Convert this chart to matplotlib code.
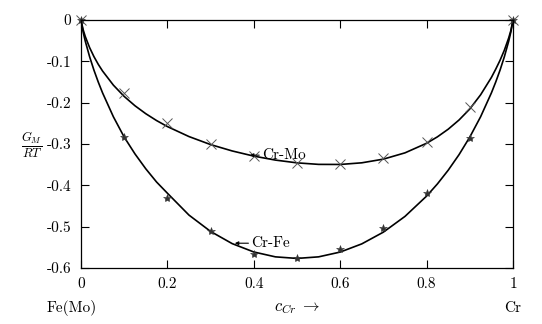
import matplotlib
matplotlib.use("Agg")
import matplotlib.pyplot as plt

plt.rcParams['mathtext.fontset'] = 'cm'
plt.rcParams['font.family'] = ['cmr10', 'DejaVu Serif']
plt.rcParams['axes.unicode_minus'] = False

# measured points
c_pts = [0.0, 0.1, 0.2, 0.3, 0.4, 0.5, 0.6, 0.7, 0.8, 0.9, 1.0]
crmo_pts = [0.0, -0.177, -0.248, -0.300, -0.329, -0.346, -0.348, -0.334, -0.295, -0.210, 0.0]
crfe_pts = [0.0, -0.284, -0.431, -0.511, -0.566, -0.576, -0.554, -0.503, -0.419, -0.286, 0.0]

# fitted curves
c_line = [0.0, 0.005, 0.01, 0.02, 0.03, 0.04, 0.05, 0.075, 0.1, 0.125, 0.15, 0.175,
          0.2, 0.25, 0.3, 0.35, 0.4, 0.45, 0.5, 0.55, 0.6, 0.65, 0.7, 0.75, 0.8,
          0.825, 0.85, 0.875, 0.9, 0.925, 0.95, 0.96, 0.97, 0.98, 0.99, 0.995, 1.0]
crmo_line = [0.0, -0.0235, -0.0402, -0.0668, -0.0886, -0.1072, -0.1235, -0.1576,
             -0.1849, -0.2075, -0.2267, -0.2433, -0.2578, -0.2820, -0.3014, -0.3168,
             -0.3293, -0.3389, -0.3456, -0.3493, -0.3495, -0.3455, -0.3366, -0.3214,
             -0.2982, -0.2827, -0.2642, -0.2420, -0.2152, -0.1810, -0.1390, -0.1190,
             -0.0975, -0.0730, -0.0435, -0.0256, 0.0]
crfe_line = [0.0, -0.0292, -0.0514, -0.0889, -0.1213, -0.1501, -0.1764, -0.2341,
             -0.2832, -0.3240, -0.3600, -0.3920, -0.4190, -0.4720, -0.5115, -0.5410,
             -0.5612, -0.5730, -0.5768, -0.5730, -0.5614, -0.5416, -0.5132, -0.4751,
             -0.4260, -0.3966, -0.3634, -0.3259, -0.2832, -0.2341, -0.1764, -0.1501,
             -0.1213, -0.0889, -0.0514, -0.0292, 0.0]

xticks = [0, 0.2, 0.4, 0.6, 0.8, 1]
xtick_labels = ['0', '0.2', '0.4', '0.6', '0.8', '1']
yticks = [0, -0.1, -0.2, -0.3, -0.4, -0.5, -0.6]
ytick_labels = ['0', '-0.1', '-0.2', '-0.3', '-0.4', '-0.5', '-0.6']

fig = plt.figure(figsize=(5.42, 3.24), dpi=100)
ax = fig.add_axes([0.1494, 0.1728, 0.7971, 0.7655])

ax.plot(c_line, crmo_line, color='black', lw=1.2)
ax.plot(c_line, crfe_line, color='black', lw=1.2)
ax.plot(c_pts, crmo_pts, 'x', color='#555555', ms=7, mew=0.7, ls='none', clip_on=False)
ax.plot(c_pts, crfe_pts, '*', color='#333333', ms=6, mew=0.4, ls='none', clip_on=False)

ax.annotate('Cr-Mo', xy=(0.391, -0.327), xytext=(0.419, -0.327), fontsize=11,
            va='center', ha='left',
            arrowprops=dict(arrowstyle='-|>', color='black', lw=0.8,
                            mutation_scale=5, shrinkA=0, shrinkB=0))
ax.annotate('Cr-Fe', xy=(0.356, -0.540), xytext=(0.394, -0.540), fontsize=11,
            va='center', ha='left',
            arrowprops=dict(arrowstyle='-|>', color='black', lw=0.8,
                            mutation_scale=5, shrinkA=0, shrinkB=0))

ax.set_xlim(0, 1)
ax.set_ylim(-0.6, 0)
ax.set_xticks(xticks)
ax.set_xticklabels(xtick_labels, fontsize=11)
ax.set_yticks(yticks)
ax.set_yticklabels(ytick_labels, fontsize=11)
ax.tick_params(direction='in', length=6, width=0.8, top=True, right=True, pad=7)
for s in ax.spines.values():
    s.set_linewidth(0.9)

fig.text(0.133, 0.05, 'Fe(Mo)', fontsize=11, ha='center', va='center')
fig.text(0.946, 0.05, 'Cr', fontsize=11, ha='center', va='center')
fig.text(0.548, 0.05, r'$c_{Cr}\;\rightarrow$', fontsize=12, ha='center', va='center')
fig.text(0.058, 0.552, r'$\frac{G_M}{RT}$', fontsize=13, ha='center', va='center')

fig.savefig('out.png', dpi=100)
